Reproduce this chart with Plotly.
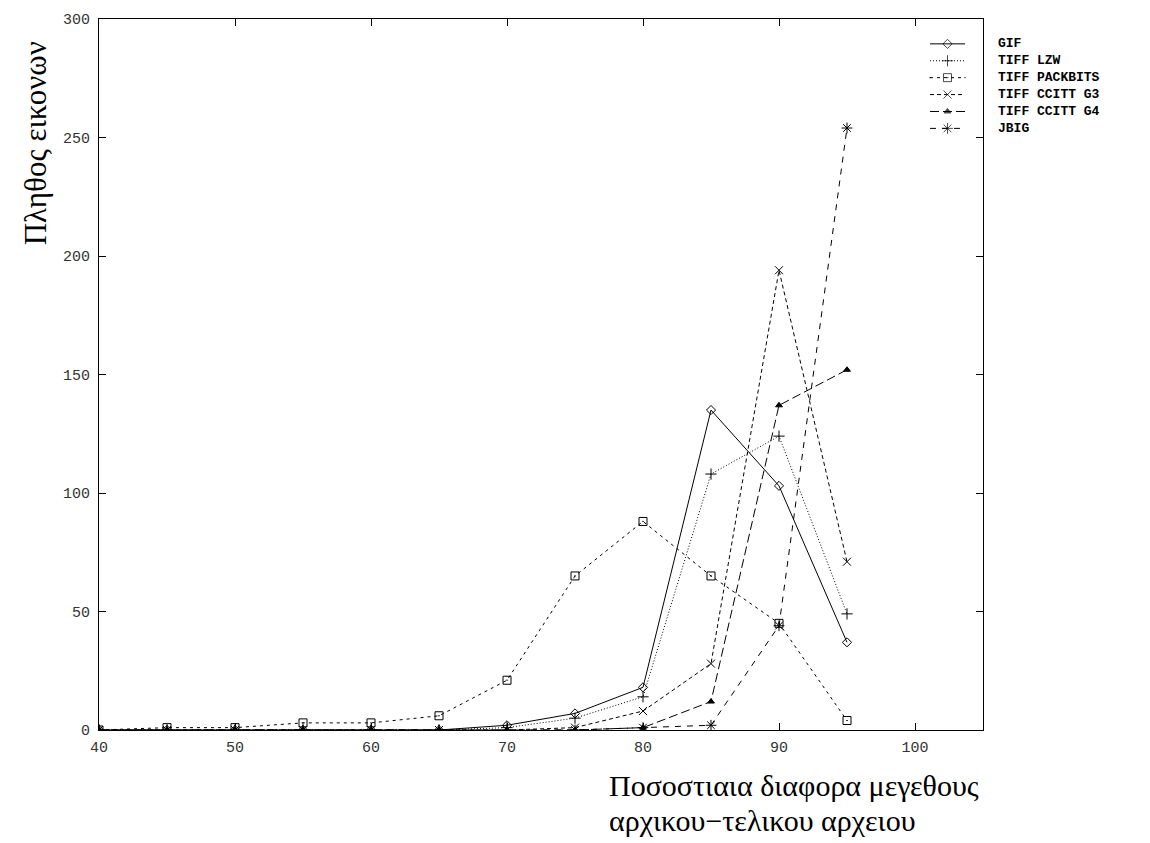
import plotly.graph_objects as go

# Data
x_pct = [40, 45, 50, 55, 60, 65, 70, 75, 80, 85, 90, 95]
gif = [0, 0, 0, 0, 0, 0, 2, 7, 18, 135, 103, 37]
tiff_lzw = [0, 0, 0, 0, 0, 0, 1, 5, 14, 108, 124, 49]
tiff_packbits = [0, 1, 1, 3, 3, 6, 21, 65, 88, 65, 45, 4]
tiff_g3 = [0, 0, 0, 0, 0, 0, 0, 1, 8, 28, 194, 71]
tiff_g4 = [0, 0, 0, 0, 0, 0, 0, 0, 1, 12, 137, 152]
jbig = [0, 0, 0, 0, 0, 0, 0, 0, 1, 2, 44, 254]

series_names = ["GIF", "TIFF LZW", "TIFF PACKBITS", "TIFF CCITT G3", "TIFF CCITT G4", "JBIG"]
series_values = [gif, tiff_lzw, tiff_packbits, tiff_g3, tiff_g4, jbig]
dashes = ["solid", "1px,2px", "3px,4px", "4px,3px", "9px,4px", "6px,6px"]
symbols = ["diamond-open", "cross-thin-open", "square-open-dot", "x-thin-open", "triangle-up", "asterisk-open"]
sizes = [7, 8, 8, 8, 6, 9]

x_ticks = [40, 50, 60, 70, 80, 90, 100]
y_ticks = [0, 50, 100, 150, 200, 250, 300]

W, H = 1150, 843
L, R, T, B = 99, 167, 15, 113
pw, ph = W - L - R, H - T - B

fig = go.Figure()
for name, vals, d, s, sz in zip(series_names, series_values, dashes, symbols, sizes):
    fig.add_trace(go.Scatter(
        x=x_pct, y=vals, name=name, mode="lines+markers", showlegend=False,
        line=dict(color="black", width=1, dash=d),
        marker=dict(symbol=s, size=sz, color="black", line=dict(color="black", width=1)),
    ))

# Legend keys, drawn on an invisible pixel-scaled overlay axis
leg_x0, leg_x1, leg_y0, leg_dy = 930, 965, 40, 17
legfont = dict(family="Liberation Mono, DejaVu Sans Mono, monospace", size=13, color="black", weight="bold")
for i, (name, d, s, sz) in enumerate(zip(series_names, dashes, symbols, sizes)):
    ry = leg_y0 + i * leg_dy
    fig.add_trace(go.Scatter(
        x=[leg_x0, (leg_x0 + leg_x1) / 2, leg_x1], y=[ry, ry, ry],
        xaxis="x2", yaxis="y2", mode="lines+markers", showlegend=False, hoverinfo="skip",
        line=dict(color="black", width=1, dash=d),
        marker=dict(symbol=s, size=[0, sz, 0], color="black", line=dict(color="black", width=1)),
    ))
    fig.add_annotation(
        text=name, xref="paper", yref="paper",
        x=(997 - L) / pw, y=(T + ph - ry) / ph, xanchor="left", yanchor="middle",
        showarrow=False, font=legfont, borderpad=0,
    )

tickfont = dict(family="Liberation Mono, DejaVu Sans Mono, monospace", size=15, color="#333")
fig.update_layout(
    width=W, height=H,
    margin=dict(l=L, r=R, t=T, b=B),
    paper_bgcolor="white", plot_bgcolor="white",
    showlegend=False,
    xaxis=dict(
        range=[40, 105], tickvals=x_ticks, ticktext=[str(v) for v in x_ticks],
        showgrid=False, zeroline=False, showline=True, linecolor="black", linewidth=1,
        mirror="ticks", ticks="inside", ticklen=7, tickcolor="black", tickfont=tickfont,
        ticklabelstandoff=3,
    ),
    yaxis=dict(
        range=[0, 300], tickvals=y_ticks, ticktext=[str(v) for v in y_ticks],
        showgrid=False, zeroline=False, showline=True, linecolor="black", linewidth=1,
        mirror="ticks", ticks="inside", ticklen=7, tickcolor="black", tickfont=tickfont,
        ticklabelstandoff=5,
    ),
    xaxis2=dict(overlaying="x", range=[L, L + pw], visible=False, fixedrange=True),
    yaxis2=dict(overlaying="y", range=[T + ph, T], visible=False, fixedrange=True),
)

titlefont = dict(family="Liberation Serif, Times New Roman, serif", size=30, color="black")
fig.add_annotation(
    text="Πληθος εικονων", textangle=-90, xref="paper", yref="paper",
    x=(35 - L) / pw, y=(T + ph - 140) / ph, xanchor="center", yanchor="middle",
    showarrow=False, font=dict(family="Liberation Serif, Times New Roman, serif", size=31, color="black"),
)
fig.add_annotation(
    text="Ποσοστιαια διαφορα μεγεθους", xref="paper", yref="paper",
    x=(607 - L) / pw, y=(T + ph - 786) / ph, xanchor="left", yanchor="middle",
    showarrow=False, font=titlefont,
)
fig.add_annotation(
    text="αρχικου−τελικου αρχειου", xref="paper", yref="paper",
    x=(607 - L) / pw, y=(T + ph - 821) / ph, xanchor="left", yanchor="middle",
    showarrow=False, font=titlefont,
)

fig.write_html("out.html")
